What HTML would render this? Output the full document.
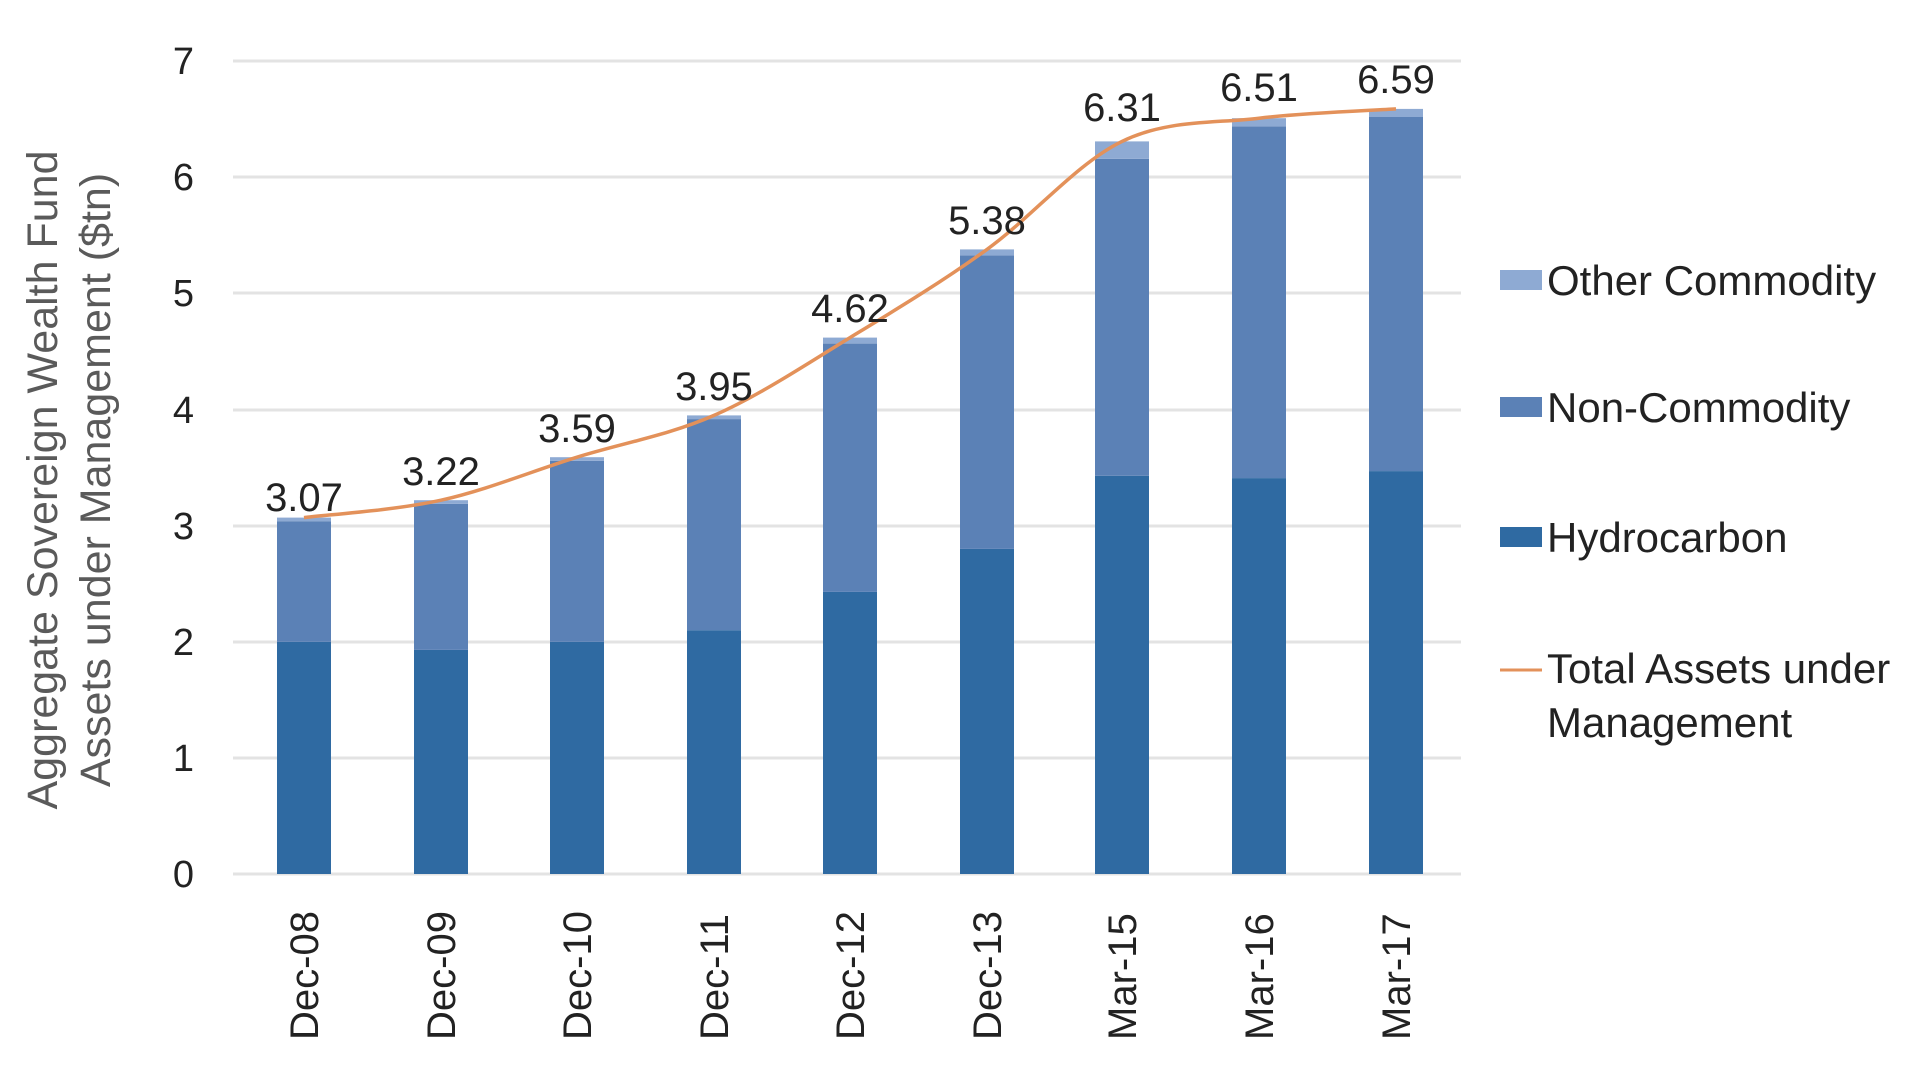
<!DOCTYPE html>
<html><head><meta charset="utf-8"><style>
html,body{margin:0;padding:0;background:#fff;width:1920px;height:1080px;overflow:hidden}
svg{display:block}
text{font-family:"Liberation Sans",sans-serif;fill:#222}
</style></head><body>
<svg width="1920" height="1080" viewBox="0 0 1920 1080">
<g stroke="#e3e3e3" stroke-width="3">
<line x1="233" x2="1461" y1="874" y2="874"/>
<line x1="233" x2="1461" y1="758" y2="758"/>
<line x1="233" x2="1461" y1="642" y2="642"/>
<line x1="233" x2="1461" y1="526" y2="526"/>
<line x1="233" x2="1461" y1="410" y2="410"/>
<line x1="233" x2="1461" y1="293" y2="293"/>
<line x1="233" x2="1461" y1="177" y2="177"/>
<line x1="233" x2="1461" y1="61" y2="61"/>
</g>
<g font-size="38" text-anchor="end">
<text x="194" y="887">0</text><text x="194" y="771">1</text><text x="194" y="655">2</text><text x="194" y="539">3</text><text x="194" y="423">4</text><text x="194" y="306">5</text><text x="194" y="190">6</text><text x="194" y="74">7</text>
</g>
<g>
<rect x="277" y="641.8" width="54" height="232.2" fill="#2f6aa2"/><rect x="277" y="521.2" width="54" height="120.6" fill="#5b81b6"/><rect x="277" y="517.6" width="54" height="3.6" fill="#8eaad3"/>
<rect x="414" y="649.9" width="54" height="224.1" fill="#2f6aa2"/><rect x="414" y="503.8" width="54" height="146.1" fill="#5b81b6"/><rect x="414" y="500.2" width="54" height="3.6" fill="#8eaad3"/>
<rect x="550" y="641.8" width="54" height="232.2" fill="#2f6aa2"/><rect x="550" y="460.8" width="54" height="181" fill="#5b81b6"/><rect x="550" y="457.2" width="54" height="3.6" fill="#8eaad3"/>
<rect x="687" y="630.2" width="54" height="243.8" fill="#2f6aa2"/><rect x="687" y="419.1" width="54" height="211.1" fill="#5b81b6"/><rect x="687" y="415.4" width="54" height="3.7" fill="#8eaad3"/>
<rect x="823" y="591.9" width="54" height="282.1" fill="#2f6aa2"/><rect x="823" y="343.6" width="54" height="248.3" fill="#5b81b6"/><rect x="823" y="337.6" width="54" height="6" fill="#8eaad3"/>
<rect x="960" y="548.9" width="54" height="325.1" fill="#2f6aa2"/><rect x="960" y="255.3" width="54" height="293.6" fill="#5b81b6"/><rect x="960" y="249.4" width="54" height="5.9" fill="#8eaad3"/>
<rect x="1095" y="475.8" width="54" height="398.2" fill="#2f6aa2"/><rect x="1095" y="158.8" width="54" height="317" fill="#5b81b6"/><rect x="1095" y="141.4" width="54" height="17.4" fill="#8eaad3"/>
<rect x="1232" y="478.1" width="54" height="395.9" fill="#2f6aa2"/><rect x="1232" y="126.3" width="54" height="351.8" fill="#5b81b6"/><rect x="1232" y="118.2" width="54" height="8.1" fill="#8eaad3"/>
<rect x="1369" y="471.1" width="54" height="402.9" fill="#2f6aa2"/><rect x="1369" y="117" width="54" height="354.1" fill="#5b81b6"/><rect x="1369" y="108.9" width="54" height="8.1" fill="#8eaad3"/>
</g>
<path d="M304,517.6 C326.8,514.7 395.5,510.3 441,500.2 C486.5,490.1 531.5,471.3 577,457.2 C622.5,443.1 668.5,435.3 714,415.4 C759.5,395.5 804.5,365.3 850,337.6 C895.5,309.9 941.7,282.1 987,249.4 C1032.3,216.7 1076.7,163.3 1122,141.4 C1167.3,119.5 1213.3,123.6 1259,118.2 C1304.7,112.8 1373.2,110.5 1396,108.9" fill="none" stroke="#e3915a" stroke-width="3.5"/>
<g font-size="40" text-anchor="middle">
<text x="304" y="511">3.07</text><text x="441" y="485">3.22</text><text x="577" y="442">3.59</text><text x="714" y="400">3.95</text><text x="850" y="322">4.62</text><text x="987" y="234">5.38</text><text x="1122" y="121">6.31</text><text x="1259" y="101">6.51</text><text x="1396" y="93">6.59</text>
</g>
<g font-size="40">
<text transform="translate(318,1040) rotate(-90)">Dec-08</text>
<text transform="translate(455,1040) rotate(-90)">Dec-09</text>
<text transform="translate(591,1040) rotate(-90)">Dec-10</text>
<text transform="translate(728,1040) rotate(-90)">Dec-11</text>
<text transform="translate(864,1040) rotate(-90)">Dec-12</text>
<text transform="translate(1001,1040) rotate(-90)">Dec-13</text>
<text transform="translate(1136,1040) rotate(-90)">Mar-15</text>
<text transform="translate(1273,1040) rotate(-90)">Mar-16</text>
<text transform="translate(1410,1040) rotate(-90)">Mar-17</text>
</g>
<g font-size="43" text-anchor="middle">
<text transform="translate(57,480) rotate(-90)" style="fill:#5a5a5a">Aggregate Sovereign Wealth Fund</text>
<text transform="translate(110,480) rotate(-90)" style="fill:#5a5a5a">Assets under Management ($tn)</text>
</g>
<rect x="1500" y="270" width="42" height="20" fill="#8eaad3"/>
<rect x="1500" y="397" width="42" height="20" fill="#5b81b6"/>
<rect x="1500" y="527" width="42" height="20" fill="#2f6aa2"/>
<line x1="1500" x2="1542" y1="670" y2="670" stroke="#e3915a" stroke-width="3"/>
<g font-size="42">
<text x="1547" y="295">Other Commodity</text>
<text x="1547" y="422">Non-Commodity</text>
<text x="1547" y="552">Hydrocarbon</text>
<text x="1547" y="683">Total Assets under</text>
<text x="1547" y="737">Management</text>
</g>
</svg>
</body></html>
